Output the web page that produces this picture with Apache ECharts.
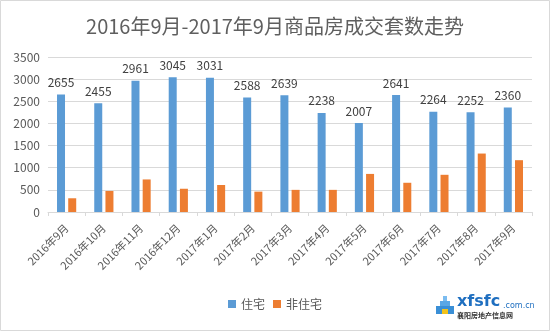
<!DOCTYPE html>
<html><head><meta charset="utf-8">
<script src="https://cdn.jsdelivr.net/npm/echarts@6/dist/echarts.min.js"></script>
<style>html,body{margin:0;padding:0;background:#fff}#c{width:550px;height:331px}</style>
</head><body><div id="c"></div>
<script>
const categories = ['2016年9月','2016年10月','2016年11月','2016年12月','2017年1月','2017年2月','2017年3月','2017年4月','2017年5月','2017年6月','2017年7月','2017年8月','2017年9月'];
const residential = [2655,2455,2961,3045,3031,2588,2639,2238,2007,2641,2264,2252,2360];
const nonResidential = [310,475,735,525,610,460,500,500,860,660,840,1320,1170];
const yTicks = [0,500,1000,1500,2000,2500,3000,3500];
const titleText = '2016年9月-2017年9月商品房成交套数走势';
const seriesNames = ['住宅','非住宅'];

const chart = echarts.init(document.getElementById('c'));
const font = '"Noto Sans CJK SC", "Noto Sans", sans-serif';
chart.setOption({
  animation: false,
  title: { text: titleText, left: 'center', top: 11,
    textStyle: { fontFamily: font, fontSize: 20, fontWeight: 'normal', color: '#5f5f5f' } },
  legend: { data: seriesNames, bottom: 16, left: 'center', itemWidth: 8, itemHeight: 8, itemGap: 8,
    icon: 'rect', textStyle: { fontFamily: font, fontSize: 12, color: '#595959' } },
  grid: { left: 48, right: 18, top: 57, bottom: 119 },
  xAxis: { type: 'category', data: categories,
    axisLine: { lineStyle: { color: '#d9d9d9' } },
    axisTick: { show: true, lineStyle: { color: '#d9d9d9' }, length: 4 },
    axisLabel: { rotate: 45, fontFamily: font, fontSize: 11, color: '#595959', margin: 14 } },
  yAxis: { type: 'value', min: yTicks[0], max: yTicks[yTicks.length-1], interval: 500,
    axisLine: { show: false }, axisTick: { show: false },
    splitLine: { lineStyle: { color: '#d9d9d9' } },
    axisLabel: { fontFamily: font, fontSize: 12, color: '#595959', margin: 8, formatter: v => String(v) } },
  series: [
    { name: seriesNames[0], type: 'bar', data: residential, barWidth: 8, barGap: '40%',
      itemStyle: { color: '#5B9BD5' },
      label: { show: true, position: 'top', distance: 6, fontFamily: font, fontSize: 12, color: '#404040' } },
    { name: seriesNames[1], type: 'bar', data: nonResidential, barWidth: 8,
      itemStyle: { color: '#ED7D31' } }
  ],
  graphic: [
    { type: 'rect', shape: { x: 0.5, y: 0.5, width: 549, height: 330 }, style: { fill: 'none', stroke: '#d9d9d9', lineWidth: 1 }, silent: true },
    { type: 'group', left: 436, top: 294, children: [
      { type: 'rect', shape: { x: 0, y: 10, width: 18, height: 8 }, style: { fill: '#3a8fd6' } },
      { type: 'rect', shape: { x: 4, y: 5, width: 10, height: 5 }, style: { fill: '#5aa7e6' } },
      { type: 'rect', shape: { x: 7, y: 0, width: 4, height: 5 }, style: { fill: '#7bbcf0' } },
      { type: 'rect', shape: { x: 6, y: 13, width: 6, height: 5 }, style: { fill: '#f2c21b' } },
      { type: 'text', style: { x: 21, y: -2, text: 'xfsfc', font: 'bold 16px "DejaVu Sans", sans-serif', fill: '#1f6fc0' } },
      { type: 'text', style: { x: 67, y: 6, text: '.com.cn', font: '8px "DejaVu Sans", sans-serif', fill: '#1f6fc0' } },
      { type: 'text', style: { x: 21, y: 16, text: '襄阳房地产信息网', font: 'bold 7px "Noto Sans CJK SC", sans-serif', fill: '#333' } }
    ]}
  ]
});
</script></body></html>
